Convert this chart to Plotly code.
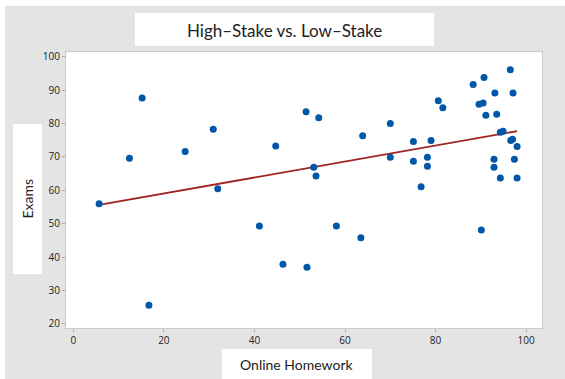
import numpy as np
import plotly.graph_objects as go

online_homework = [5.7, 12.4, 15.2, 16.7, 24.7, 30.9, 31.9, 41.1, 44.7, 46.3, 51.4, 51.6,
                   53.1, 53.6, 54.2, 58.1, 63.5, 63.9, 70.0, 70.0, 75.1, 75.1, 76.8, 78.2,
                   78.2, 79.0, 80.6, 81.6, 88.3, 89.6, 90.1, 90.5, 90.7, 91.1, 92.9, 92.9,
                   93.1, 93.5, 94.3, 94.3, 94.9, 96.5, 96.6, 97.0, 97.1, 97.4, 98.0, 98.0]
exams = [56.0, 69.6, 87.6, 25.6, 71.6, 78.3, 60.5, 49.3, 73.3, 37.9, 83.5, 37.0,
         66.9, 64.3, 81.7, 49.3, 45.8, 76.3, 80.0, 69.9, 74.6, 68.7, 61.1, 69.9,
         67.2, 74.9, 86.8, 84.7, 91.7, 85.8, 48.1, 86.1, 93.8, 82.5, 69.3, 66.9,
         89.1, 82.8, 77.4, 63.7, 77.7, 96.1, 74.9, 75.3, 89.1, 69.3, 73.1, 63.7]
x_ticks = [0, 20, 40, 60, 80, 100]
y_ticks = [20, 30, 40, 50, 60, 70, 80, 90, 100]
title_text = "High\u2013Stake vs. Low\u2013Stake"
x_title = "Online Homework"
y_title = "Exams"

slope, intercept = np.polyfit(online_homework, exams, 1)
fit_x = [min(online_homework), max(online_homework)]
fit_y = [slope * v + intercept for v in fit_x]

W, H = 565, 379
PL, PR, PT, PB = 66, 542, 52, 328
PW, PH = PR - PL, PB - PT

fig = go.Figure()
fig.add_trace(go.Scatter(x=fit_x, y=fit_y, mode="lines",
                         line=dict(color="#9e2222", width=1.8), hoverinfo="skip"))
fig.add_trace(go.Scatter(x=online_homework, y=exams, mode="markers",
                         marker=dict(color="#0057a8", size=7, line=dict(width=0))))


def box(x0, y0, x1, y1, color="white"):
    return dict(type="rect", xref="paper", yref="paper",
                x0=(x0 - PL) / PW, x1=(x1 - PL) / PW,
                y0=(PB - y1) / PH, y1=(PB - y0) / PH,
                fillcolor=color, line=dict(width=0), layer="below")


shapes = [
    box(5, 6, 566, 380, "#e4e4e4"),
    box(135, 13, 434, 46),
    box(13, 124, 42, 274),
    box(222, 349, 372, 380),
    box(PL, PT, PR, PB),
]

annotations = [
    dict(text=title_text, xref="paper", yref="paper", x=(284.5 - PL) / PW, y=(PB - 30) / PH,
         showarrow=False, font=dict(family="Lato", size=17, color="#222"),
         xanchor="center", yanchor="middle"),
    dict(text=y_title, xref="paper", yref="paper", x=(27.5 - PL) / PW, y=(PB - 199) / PH,
         showarrow=False, textangle=-90, font=dict(family="Lato", size=14, color="#222"),
         xanchor="center", yanchor="middle"),
    dict(text=x_title, xref="paper", yref="paper", x=(297 - PL) / PW, y=(PB - 364) / PH,
         showarrow=False, font=dict(family="Lato", size=14, color="#222"),
         xanchor="center", yanchor="middle"),
]

fig.update_layout(
    width=W, height=H,
    margin=dict(l=PL, r=W - PR, t=PT, b=H - PB),
    paper_bgcolor="white", plot_bgcolor="white",
    showlegend=False,
    shapes=shapes, annotations=annotations,
    xaxis=dict(range=[-1.61, 103.5], tickvals=x_ticks, ticks="outside", ticklen=3,
               tickcolor="#aaaaaa", showgrid=False, zeroline=False,
               showline=True, linecolor="#cccccc", mirror=True,
               tickfont=dict(family="Open Sans", size=10, color="#222")),
    yaxis=dict(range=[18.8, 101.4], tickvals=y_ticks, ticks="outside", ticklen=3,
               tickcolor="#aaaaaa", showgrid=False, zeroline=False,
               showline=True, linecolor="#cccccc", mirror=True,
               tickfont=dict(family="Open Sans", size=10, color="#222")),
)

fig.write_html("out.html", config={"displayModeBar": False},
               post_script="document.body.style.margin='0';document.body.style.overflow='hidden';")
